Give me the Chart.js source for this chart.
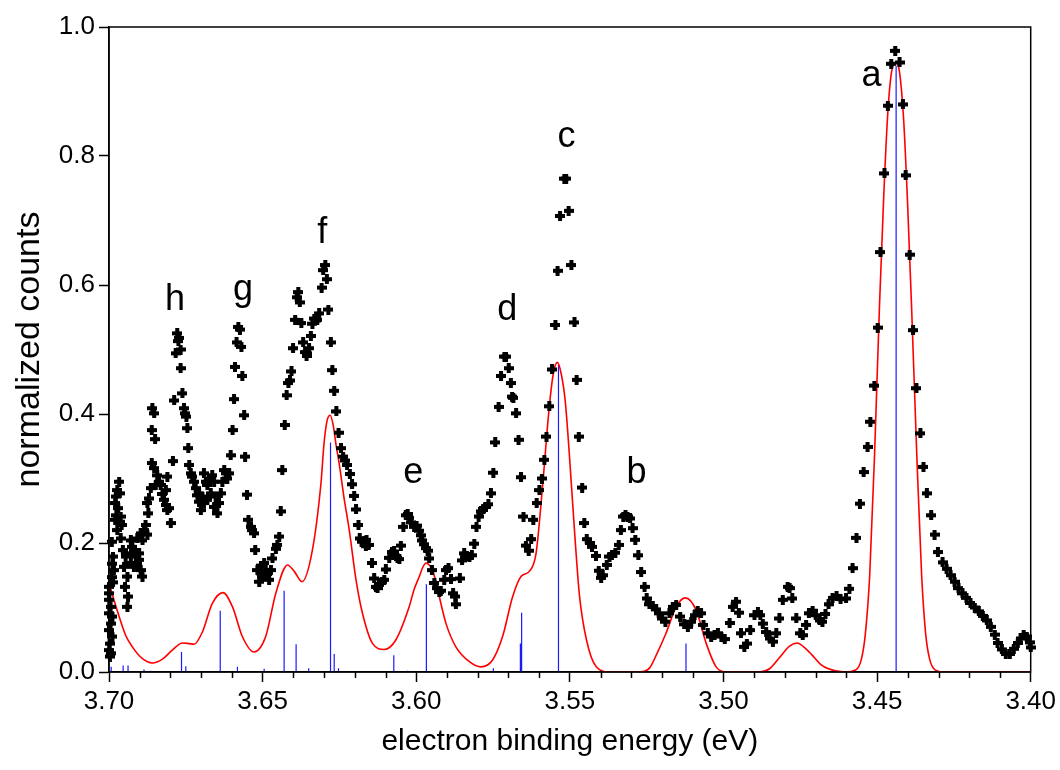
<!DOCTYPE html>
<html>
<head>
<meta charset="utf-8">
<style>
html,body{margin:0;padding:0;background:#fff;}
#wrap{width:1060px;height:770px;}
</style>
<script src="https://cdn.jsdelivr.net/npm/chart.js@4.4.1/dist/chart.umd.min.js"></script>
</head>
<body>
<div id="wrap"><canvas id="c" width="1060" height="770"></canvas></div>
<script>
// ---------- measured spectrum (black markers) ----------
const scatterE = [
3.7000,3.7000,3.6999,3.6995,3.6999,3.6989,3.6995,3.7000,3.6989,3.6998,3.6999,3.6994,3.6997,
3.6991,3.6987,3.6989,3.6984,3.6991,3.6987,
3.6967,3.6973,3.6978,3.6965,3.6980,3.6970,3.6976,3.6962,3.6980,3.6965,3.6959,3.6973,3.6962,
3.6955,3.6946,3.6951,3.6940,3.6948,3.6938,3.6940,
3.6929,3.6924,3.6919,3.6913,3.6902,3.6908,3.6897,3.6929,3.6891,3.6919,3.6902,3.6924,
3.6908,3.6897,3.6886,3.6881,3.6875,3.6891,3.6872,3.6875,3.6870,3.6864,
3.6861,3.6853,3.6843,3.6837,3.6848,3.6832,3.6826,3.6821,3.6815,3.6810,3.6805,3.6815,3.6810,3.6799,3.6792,
3.6859,3.6853,3.6861,3.6850,3.6788,3.6783,3.6778,3.6772,3.6774,3.6767,3.6767,3.6761,3.6756,3.6752,3.6748,
3.6745,3.6742,3.6739,3.6734,3.6729,3.6723,3.6718,3.6712,3.6707,3.6701,
3.6691,3.6685,3.6680,3.6674,3.6664,3.6658,3.6669,3.6680,3.6691,3.6696,3.6707,3.6653,3.6658,3.6647,3.6642,
3.6636,3.6631,3.6625,3.6620,3.6615,3.6609,
3.6604,3.6598,3.6593,3.6590,3.6585,3.6579,3.6574,3.6569,3.6566,3.6560,3.6557,3.6551,3.6546,3.6538,3.6533,
3.6528,3.6524,3.6517,3.6511,3.6506,3.6505,3.6502,3.6495,3.6490,3.6485,3.6479,3.6473,3.6468,3.6457,3.6452,
3.6446,3.6441,3.6436,
3.6428,3.6422,3.6416,3.6411,3.6406,3.6401,3.6394,3.6389,3.6384,3.6379,3.6374,3.6368,3.6362,3.6357,3.6354,
3.6349,3.6343,3.6338,3.6332,3.6327,3.6322,3.6316,3.6308,3.6303,3.6296,3.6291,3.6286,3.6278,3.6273,3.6267,
3.6260,3.6253,3.6245,3.6238,3.6231,3.6225,3.6216,3.6209,3.6202,3.6196,3.6188,3.6184,3.6178,3.6169,3.6162,
3.6155,3.6164,3.6144,3.6137,3.6131,3.6126,3.6121,3.6112,3.6104,3.6099,3.6088,3.6079,3.6072,3.6061,3.6055,
3.6050,3.6042,3.6034,3.6028,3.6023,3.6017,3.6007,3.5999,3.5990,3.5985,3.5980,3.5974,3.5968,3.5963,3.5958,
3.5949,3.5941,3.5934,3.5925,3.5920,3.5909,3.5903,3.5895,3.5887,3.5880,3.5873,3.5871,3.5858,3.5851,3.5844,
3.5836,3.5827,3.5819,3.5811,3.5804,3.5797,3.5789,3.5782,3.5773,3.5765,3.5757,3.5749,3.5743,3.5732,3.5724,
3.5713,3.5708,3.5699,3.5692,3.5688,3.5684,3.5675,3.5667,3.5659,3.5651,3.5643,3.5634,3.5626,3.5619,3.5608,
3.5599,3.5591,3.5583,3.5576,3.5567,3.5558,3.5547,3.5540,3.5532,3.5518,3.5512,3.5504,3.5495,3.5485,3.5478,
3.5471,3.5460,3.5453,3.5445,3.5436,3.5428,3.5415,3.5406,3.5398,3.5393,3.5380,3.5371,3.5363,3.5352,3.5341,
3.5334,3.5326,3.5319,3.5312,3.5304,3.5296,3.5287,3.5277,3.5268,3.5257,3.5250,3.5241,3.5230,3.5219,3.5211,
3.5200,3.5189,3.5176,3.5165,3.5154,3.5141,3.5128,3.5116,3.5105,3.5094,3.5084,3.5073,3.5065,3.5051,3.5040,
3.5029,3.5018,3.5007,3.4996,3.4980,3.4970,3.4959,3.4950,3.4943,3.4932,3.4924,3.4913,3.4899,3.4888,3.4880,
3.4872,3.4861,3.4850,3.4839,3.4828,3.4818,3.4807,3.4791,3.4785,3.4776,3.4763,3.4750,3.4742,3.4731,3.4722,
3.4710,3.4700,3.4687,3.4678,3.4668,3.4658,3.4645,3.4632,3.4619,3.4601,3.4590,3.4580,3.4567,3.4556,3.4544,
3.4531,3.4522,3.4509,3.4498,3.4489,3.4476,3.4465,3.4454,3.4441,3.4427,3.4416,3.4407,3.4394,3.4383,3.4372,
3.4359,3.4349,3.4338,3.4324,3.4313,3.4302,3.4287,3.4274,3.4261,3.4248,3.4235,3.4222,3.4209,3.4196,3.4182,
3.4169,3.4156,3.4143,3.4130,3.4117,3.4108,3.4094,3.4081,3.4068,3.4055,3.4042,3.4033,3.4023,3.4013,3.4003,
3.4000
];
const scatterCounts = [
0.132,0.122,0.112,0.101,0.091,0.086,0.075,0.065,0.055,0.044,0.034,0.029,0.024,
0.202,0.179,0.168,0.158,0.147,0.139,
0.295,0.282,0.272,0.277,0.262,0.254,0.243,0.241,0.236,0.233,0.228,0.220,0.207,
0.189,0.179,0.163,0.148,0.132,0.117,0.101,
0.204,0.194,0.189,0.179,0.184,0.169,0.158,0.169,0.148,0.163,0.174,0.184,
0.207,0.215,0.220,0.228,0.213,0.204,0.246,0.262,0.269,0.285,
0.324,0.316,0.305,0.295,0.290,0.290,0.276,0.267,0.259,0.251,0.254,0.282,0.303,0.231,0.327,
0.409,0.401,0.375,0.361,0.421,0.494,0.525,0.518,0.513,0.500,0.471,0.432,0.409,0.401,0.396,
0.378,0.347,0.321,0.308,0.303,0.295,0.285,0.274,0.264,0.251,
0.308,0.295,0.290,0.300,0.305,0.295,0.277,0.267,0.262,0.272,0.277,0.272,0.256,0.246,0.262,
0.277,0.295,0.313,0.308,0.300,0.308,
0.336,0.375,0.423,0.473,0.511,0.535,0.531,0.504,0.459,0.398,0.334,0.275,0.236,0.225,0.220,
0.215,0.189,0.158,0.140,0.153,0.165,0.148,0.169,0.158,0.152,0.143,0.158,0.176,0.191,0.197,
0.210,0.249,0.313,
0.383,0.429,0.448,0.452,0.466,0.502,0.546,0.581,0.589,0.573,0.541,0.511,0.496,0.490,0.494,
0.502,0.521,0.540,0.548,0.545,0.546,0.556,0.596,0.623,0.631,0.609,0.562,0.511,0.468,0.436,
0.404,0.371,0.347,0.334,0.328,0.321,0.307,0.291,0.273,0.252,0.228,0.207,0.202,0.203,0.205,
0.197,0.195,0.169,0.145,0.132,0.130,0.136,0.140,0.143,0.159,0.177,0.186,0.187,0.177,0.175,
0.196,0.225,0.243,0.245,0.239,0.232,0.225,0.227,0.219,0.212,0.204,0.198,0.192,0.188,0.176,
0.158,0.138,0.130,0.124,0.126,0.143,0.158,0.161,0.144,0.122,0.117,0.105,0.145,0.173,0.184,
0.180,0.178,0.181,0.199,0.225,0.241,0.249,0.253,0.256,0.260,0.277,0.309,0.356,0.411,0.459,
0.489,0.489,0.471,0.448,0.427,0.425,0.401,0.360,0.302,0.241,0.196,0.188,0.206,0.236,0.262,
0.282,0.300,0.329,0.365,0.412,0.469,0.538,0.622,0.707,0.765,0.765,0.715,0.631,0.542,0.453,
0.365,0.286,0.231,0.206,0.200,0.194,0.180,0.157,0.146,0.150,0.166,0.179,0.182,0.185,0.197,
0.220,0.241,0.243,0.241,0.238,0.223,0.205,0.181,0.155,0.132,0.114,0.105,0.102,0.097,0.091,
0.083,0.078,0.091,0.101,0.104,0.086,0.074,0.070,0.078,0.088,0.094,0.091,0.073,0.060,0.055,
0.057,0.060,0.055,0.051,0.076,0.101,0.109,0.092,0.060,0.039,0.044,0.065,0.088,0.093,0.088,
0.075,0.062,0.052,0.047,0.060,0.083,0.112,0.132,0.130,0.114,0.083,0.060,0.057,0.073,0.091,
0.095,0.088,0.080,0.078,0.090,0.105,0.115,0.118,0.113,0.114,0.129,0.161,0.208,0.261,0.310,
0.349,0.388,0.444,0.534,0.651,0.773,0.878,0.943,0.963,0.945,0.880,0.770,0.647,0.530,0.440,
0.370,0.318,0.277,0.243,0.213,0.186,0.170,0.160,0.150,0.140,0.130,0.122,0.115,0.107,0.100,
0.094,0.087,0.080,0.070,0.058,0.045,0.035,0.028,0.028,0.036,0.045,0.052,0.057,0.055,0.046,
0.038
];

// ---------- simulated spectrum (red line) ----------
const simE = [
3.7000,3.6984,3.6967,3.6946,3.6924,3.6892,3.6859,3.6826,3.6794,3.6761,3.6739,3.6723,3.6696,3.6664,3.6629,
3.6598,3.6566,3.6528,3.6490,3.6457,3.6419,3.6397,3.6372,3.6338,3.6310,3.6300,3.6290,3.6280,3.6270,3.6261,
3.6251,3.6235,3.6218,3.6196,3.6175,3.6142,3.6104,3.6066,3.6023,3.6007,3.5990,3.5979,3.5968,3.5958,3.5947,
3.5936,3.5925,3.5903,3.5871,3.5827,3.5789,3.5751,3.5719,3.5686,3.5659,3.5632,3.5610,3.5589,3.5567,3.5554,
3.5541,3.5528,3.5515,3.5502,3.5485,3.5469,3.5446,3.5414,3.5371,3.5274,3.5241,3.5215,3.5187,3.5154,3.5124,
3.5089,3.5056,3.5024,3.4991,3.4883,3.4850,3.4818,3.4785,3.4759,3.4739,3.4713,3.4684,3.4658,3.4606,3.4570,
3.4551,3.4538,3.4524,3.4508,3.4492,3.4479,3.4466,3.4453,3.4438,3.4427,3.4414,3.4401,3.4388,3.4371,3.4355,
3.4342,3.4329,3.4310,3.4280,3.4000
];
const simCounts = [
0.138,0.112,0.086,0.057,0.039,0.021,0.014,0.020,0.034,0.045,0.044,0.043,0.062,0.106,0.123,
0.101,0.055,0.031,0.055,0.122,0.166,0.156,0.140,0.189,0.293,0.355,0.390,0.398,0.382,0.352,
0.324,0.270,0.220,0.143,0.091,0.044,0.035,0.050,0.101,0.128,0.148,0.162,0.169,0.166,0.158,
0.140,0.117,0.075,0.039,0.016,0.008,0.019,0.055,0.117,0.148,0.156,0.184,0.287,0.411,0.462,
0.480,0.462,0.420,0.340,0.220,0.120,0.050,0.008,0.000,0.000,0.006,0.030,0.060,0.101,0.115,
0.096,0.044,0.008,0.000,0.000,0.005,0.022,0.040,0.045,0.039,0.027,0.012,0.005,0.000,0.003,
0.020,0.060,0.150,0.340,0.570,0.730,0.860,0.930,0.945,0.930,0.860,0.730,0.570,0.340,0.150,
0.060,0.020,0.003,0.000,0.000
];

// ---------- stick spectrum (blue lines) ----------
const stickE = [3.6993,3.6954,3.6938,3.6886,3.6864,3.6764,3.6750,3.6638,3.6582,3.6495,3.6430,3.6391,3.6350,
  3.6279,3.6267,3.6253,3.6073,3.6028,3.5967,3.5749,3.5661,3.5657,3.5537,3.5122,3.4438];
const stickH = [0.008,0.010,0.010,0.004,0.002,0.031,0.009,0.095,0.008,0.005,0.126,0.043,0.006,
  0.356,0.028,0.006,0.026,0.002,0.136,0.006,0.044,0.092,0.476,0.044,0.940];

// ---------- peak letters ----------
const peakLabels = ['a','b','c','d','e','f','g','h'];
const peakLabelE = [3.4518,3.5283,3.5511,3.5704,3.6010,3.6306,3.6564,3.6785];
const peakLabelY = [0.909,0.293,0.814,0.546,0.293,0.665,0.577,0.561];

// ---------- axis settings ----------
const xMin = 3.40, xMax = 3.70, xMinorStep = 0.01;
const yMin = 0, yMax = 1.0, yStep = 0.2;
const xTitle = 'electron binding energy (eV)';
const yTitle = 'normalized counts';

const FONT = "'Liberation Sans', Arial, Helvetica, sans-serif";

// marker: chunky plus/diamond
const marker = document.createElement('canvas');
marker.width = 10; marker.height = 10;
(function(){
  const m = marker.getContext('2d');
  m.fillStyle = '#000';
  m.fillRect(0, 3, 10, 4);
  m.fillRect(3, 0, 4, 10);
  m.beginPath();
  m.moveTo(5, 0.6); m.lineTo(9.4, 5); m.lineTo(5, 9.4); m.lineTo(0.6, 5); m.closePath();
  m.fill();
})();

const scatterData = scatterE.map((e, i) => ({x: e, y: scatterCounts[i]}));
const simData = simE.map((e, i) => ({x: e, y: simCounts[i]}));
const stickData = [];
stickE.forEach((e, i) => {
  stickData.push({x: e, y: 0});
  stickData.push({x: e, y: stickH[i]});
  stickData.push({x: e, y: null});
});

const isMajor = v => Math.round(v * 100) % 5 === 0;

const framePlugin = {
  id: 'frame',
  afterDraw(chart) {
    const {ctx, chartArea: a, scales} = chart;
    ctx.save();
    const xs = scales.x;
    ctx.strokeStyle = '#000';
    ctx.lineWidth = 1.5;
    xs.ticks.forEach(t => {
      if (!isMajor(t.value)) {
        const px = Math.round(xs.getPixelForValue(t.value)) + 0.5;
        ctx.beginPath();
        ctx.moveTo(px, a.bottom);
        ctx.lineTo(px, a.bottom + 6);
        ctx.stroke();
      }
    });
    ctx.lineWidth = 1.5;
    ctx.strokeRect(a.left, a.top, a.right - a.left, a.bottom - a.top);
    const ys = scales.y;
    ctx.fillStyle = '#000';
    ctx.font = '36px ' + FONT;
    ctx.textAlign = 'center';
    ctx.textBaseline = 'alphabetic';
    peakLabels.forEach((l, i) => {
      ctx.fillText(l, xs.getPixelForValue(peakLabelE[i]), ys.getPixelForValue(peakLabelY[i]));
    });
    ctx.restore();
  }
};

new Chart(document.getElementById('c'), {
  type: 'scatter',
  data: {
    datasets: [
      {
        label: 'experiment',
        data: scatterData,
        pointStyle: marker,
        pointRadius: 5,
        showLine: false,
        order: 0,
        clip: 10
      },
      {
        label: 'simulation',
        type: 'line',
        data: simData,
        borderColor: '#ff0000',
        borderWidth: 1.6,
        pointRadius: 0,
        fill: false,
        cubicInterpolationMode: 'monotone',
        order: 1
      },
      {
        label: 'sticks',
        type: 'line',
        data: stickData,
        borderColor: '#1a1aff',
        borderWidth: 1.2,
        pointRadius: 0,
        spanGaps: false,
        fill: false,
        tension: 0,
        order: 2
      }
    ]
  },
  options: {
    responsive: false,
    animation: false,
    devicePixelRatio: 1,
    layout: {padding: {left: 0, top: 27, right: 27, bottom: 0}},
    plugins: {legend: {display: false}, tooltip: {enabled: false}},
    scales: {
      x: {
        type: 'linear',
        min: xMin, max: xMax, reverse: true,
        ticks: {
          stepSize: xMinorStep, autoSkip: false, maxRotation: 0, minRotation: 0,
          color: '#000', font: {family: FONT, size: 26}, padding: 4,
          callback: v => isMajor(v) ? v.toFixed(2) : ''
        },
        grid: {
          drawOnChartArea: false, tickLength: 10, tickWidth: 1.5,
          tickColor: c => (c.tick && isMajor(c.tick.value)) ? '#000' : 'rgba(0,0,0,0)'
        },
        border: {color: '#000', width: 1.5},
        title: {display: true, text: xTitle, color: '#000', font: {family: FONT, size: 30}, padding: {top: 0, bottom: 10}},
        afterFit: s => { s.height = 98; }
      },
      y: {
        type: 'linear',
        min: yMin, max: yMax,
        ticks: {stepSize: yStep, color: '#000', font: {family: FONT, size: 26}, padding: 4,
          callback: v => v.toFixed(1)},
        grid: {drawOnChartArea: false, tickLength: 10, tickWidth: 1.5, tickColor: '#000'},
        border: {color: '#000', width: 1.5},
        title: {display: true, text: yTitle, color: '#000', font: {family: FONT, size: 34}, padding: {top: 9, bottom: 0}},
        afterFit: s => { s.width = 109; }
      }
    }
  },
  plugins: [framePlugin]
});
</script>
</body>
</html>
